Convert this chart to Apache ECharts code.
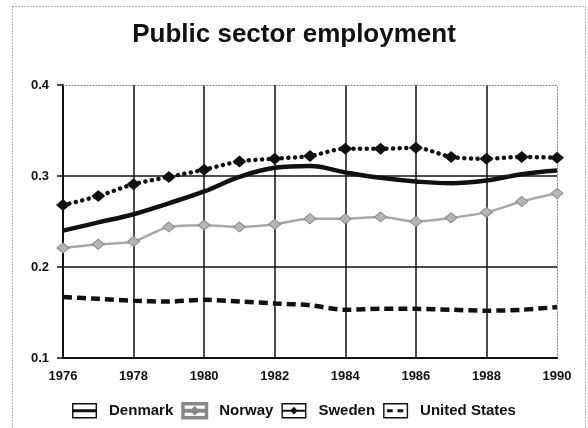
<!DOCTYPE html>
<html>
<head>
<meta charset="utf-8">
<script src="https://cdn.jsdelivr.net/npm/echarts@6/dist/echarts.min.js"></script>
<style>
  html, body { margin: 0; padding: 0; background: #fff; }
  #chart { width: 588px; height: 428px; }
</style>
</head>
<body>
<div id="chart"></div>
<script>
const years = [1976, 1977, 1978, 1979, 1980, 1981, 1982, 1983, 1984, 1985, 1986, 1987, 1988, 1989, 1990]
const denmark = [0.240, 0.249, 0.258, 0.270, 0.283, 0.299, 0.309, 0.311, 0.304, 0.298, 0.294, 0.292, 0.295, 0.302, 0.306]
const norway = [0.221, 0.225, 0.228, 0.244, 0.246, 0.244, 0.247, 0.253, 0.253, 0.255, 0.250, 0.254, 0.260, 0.272, 0.281]
const sweden = [0.268, 0.278, 0.291, 0.299, 0.307, 0.316, 0.319, 0.322, 0.330, 0.330, 0.331, 0.321, 0.319, 0.321, 0.320]
const unitedStates = [0.167, 0.165, 0.163, 0.162, 0.164, 0.162, 0.160, 0.158, 0.153, 0.154, 0.154, 0.153, 0.152, 0.153, 0.156]
const seriesNames = ['Denmark', 'Norway', 'Sweden', 'United States']

const font = '"Liberation Sans", Arial, Helvetica, sans-serif'
const pairs = (vals) => years.map((y, i) => [y, vals[i]])

// legend icons: framed box with the line style inside
const frame = 'M0,0 L26,0 L26,16 L0,16 Z M1.5,1.5 L1.5,14.5 L24.5,14.5 L24.5,1.5 Z '
const icons = {
  'Denmark': 'path://' + frame + 'M0,6.5 L26,6.5 L26,9.5 L0,9.5 Z',
  'Norway': 'path://' + frame + 'M0,7 L26,7 L26,9 L0,9 Z M13,4.5 L16.5,8 L13,11.5 L9.5,8 Z',
  'Sweden': 'path://' + frame + 'M0,7 L26,7 L26,9 L0,9 Z M13,4 L17,8 L13,12 L9,8 Z',
  'United States': 'path://' + frame + 'M4,6.5 L10,6.5 L10,9.5 L4,9.5 Z M15,6.5 L21,6.5 L21,9.5 L15,9.5 Z',
}

const chart = echarts.init(document.getElementById('chart'))

const hideLast = (n) => Array.from({ length: n }, (_, i) => i === n - 1 ? 'rgba(0,0,0,0)' : '#111')

const option = {
  animation: false,
  backgroundColor: '#fff',
  title: {
    text: 'Public sector employment',
    left: 'center',
    top: 17,
    textStyle: { fontFamily: font, fontSize: 26, fontWeight: 'bold', color: '#111' },
  },
  graphic: [{
    type: 'rect',
    shape: { x: 12.5, y: 6.5, width: 573, height: 440 },
    style: { fill: 'none', stroke: '#666', lineWidth: 1, lineDash: [1, 2] },
  }],
  legend: {
    left: 'center',
    top: 397,
    itemWidth: 25,
    itemHeight: 16,
    itemGap: 8,
    data: seriesNames.map(n => ({ name: n, icon: icons[n] })),
    textStyle: { fontFamily: font, fontSize: 15, fontWeight: 'bold', color: '#111', padding: [0, 0, 0, 7] },
  },
  grid: { left: 63, right: 31, top: 85, bottom: 70 },
  xAxis: [{
    type: 'value',
    min: 1976,
    max: 1990,
    interval: 2,
    axisLine: { lineStyle: { color: '#111', width: 2 } },
    axisTick: { show: false },
    axisLabel: {
      margin: 12,
      fontFamily: font, fontSize: 13, fontWeight: 'bold', color: '#111',
      formatter: (v) => String(v),
    },
    splitLine: { lineStyle: { color: hideLast(8), width: 1.5 } },
  }, {
    type: 'value',
    position: 'top',
    min: 1976,
    max: 1990,
    axisLine: { show: true, lineStyle: { color: '#777', width: 1, type: [1, 2] } },
    axisTick: { show: false },
    axisLabel: { show: false },
    splitLine: { show: false },
  }],
  yAxis: [{
    type: 'value',
    min: 0.1,
    max: 0.4,
    interval: 0.1,
    axisLine: { show: true, lineStyle: { color: '#111', width: 2 } },
    axisTick: { show: true, length: 6, lineStyle: { color: '#111', width: 1.5 } },
    axisLabel: {
      margin: 14,
      fontFamily: font, fontSize: 13, fontWeight: 'bold', color: '#111',
      formatter: (v) => v.toFixed(1),
    },
    splitLine: { lineStyle: { color: hideLast(4), width: 1.5 } },
  }, {
    type: 'value',
    position: 'right',
    min: 0.1,
    max: 0.4,
    axisLine: { show: true, lineStyle: { color: '#777', width: 1, type: [1, 2] } },
    axisTick: { show: false },
    axisLabel: { show: false },
    splitLine: { show: false },
  }],
  series: [
    {
      name: 'Denmark',
      type: 'line',
      data: pairs(denmark),
      smooth: 0.4,
      showSymbol: false,
      symbol: 'none',
      color: '#111',
      lineStyle: { color: '#111', width: 4.5 },
      z: 3,
    },
    {
      name: 'Norway',
      type: 'line',
      data: pairs(norway),
      smooth: 0.3,
      symbol: 'diamond',
      symbolSize: [12, 10],
      color: '#777',
      itemStyle: { color: '#b5b5b5', borderColor: '#888', borderWidth: 1 },
      lineStyle: { color: '#a8a8a8', width: 2.5 },
      z: 2,
    },
    {
      name: 'Sweden',
      type: 'line',
      data: pairs(sweden),
      smooth: 0.3,
      symbol: 'diamond',
      symbolSize: [14, 12],
      color: '#111',
      itemStyle: { color: '#111' },
      lineStyle: { color: '#111', width: 4.5, type: [0.1, 6.5], cap: 'round' },
      z: 4,
    },
    {
      name: 'United States',
      type: 'line',
      data: pairs(unitedStates),
      smooth: 0.3,
      symbol: 'none',
      color: '#111',
      lineStyle: { color: '#111', width: 4.5, type: [9, 5] },
      z: 3,
    },
  ],
}

chart.setOption(option)
</script>
</body>
</html>
